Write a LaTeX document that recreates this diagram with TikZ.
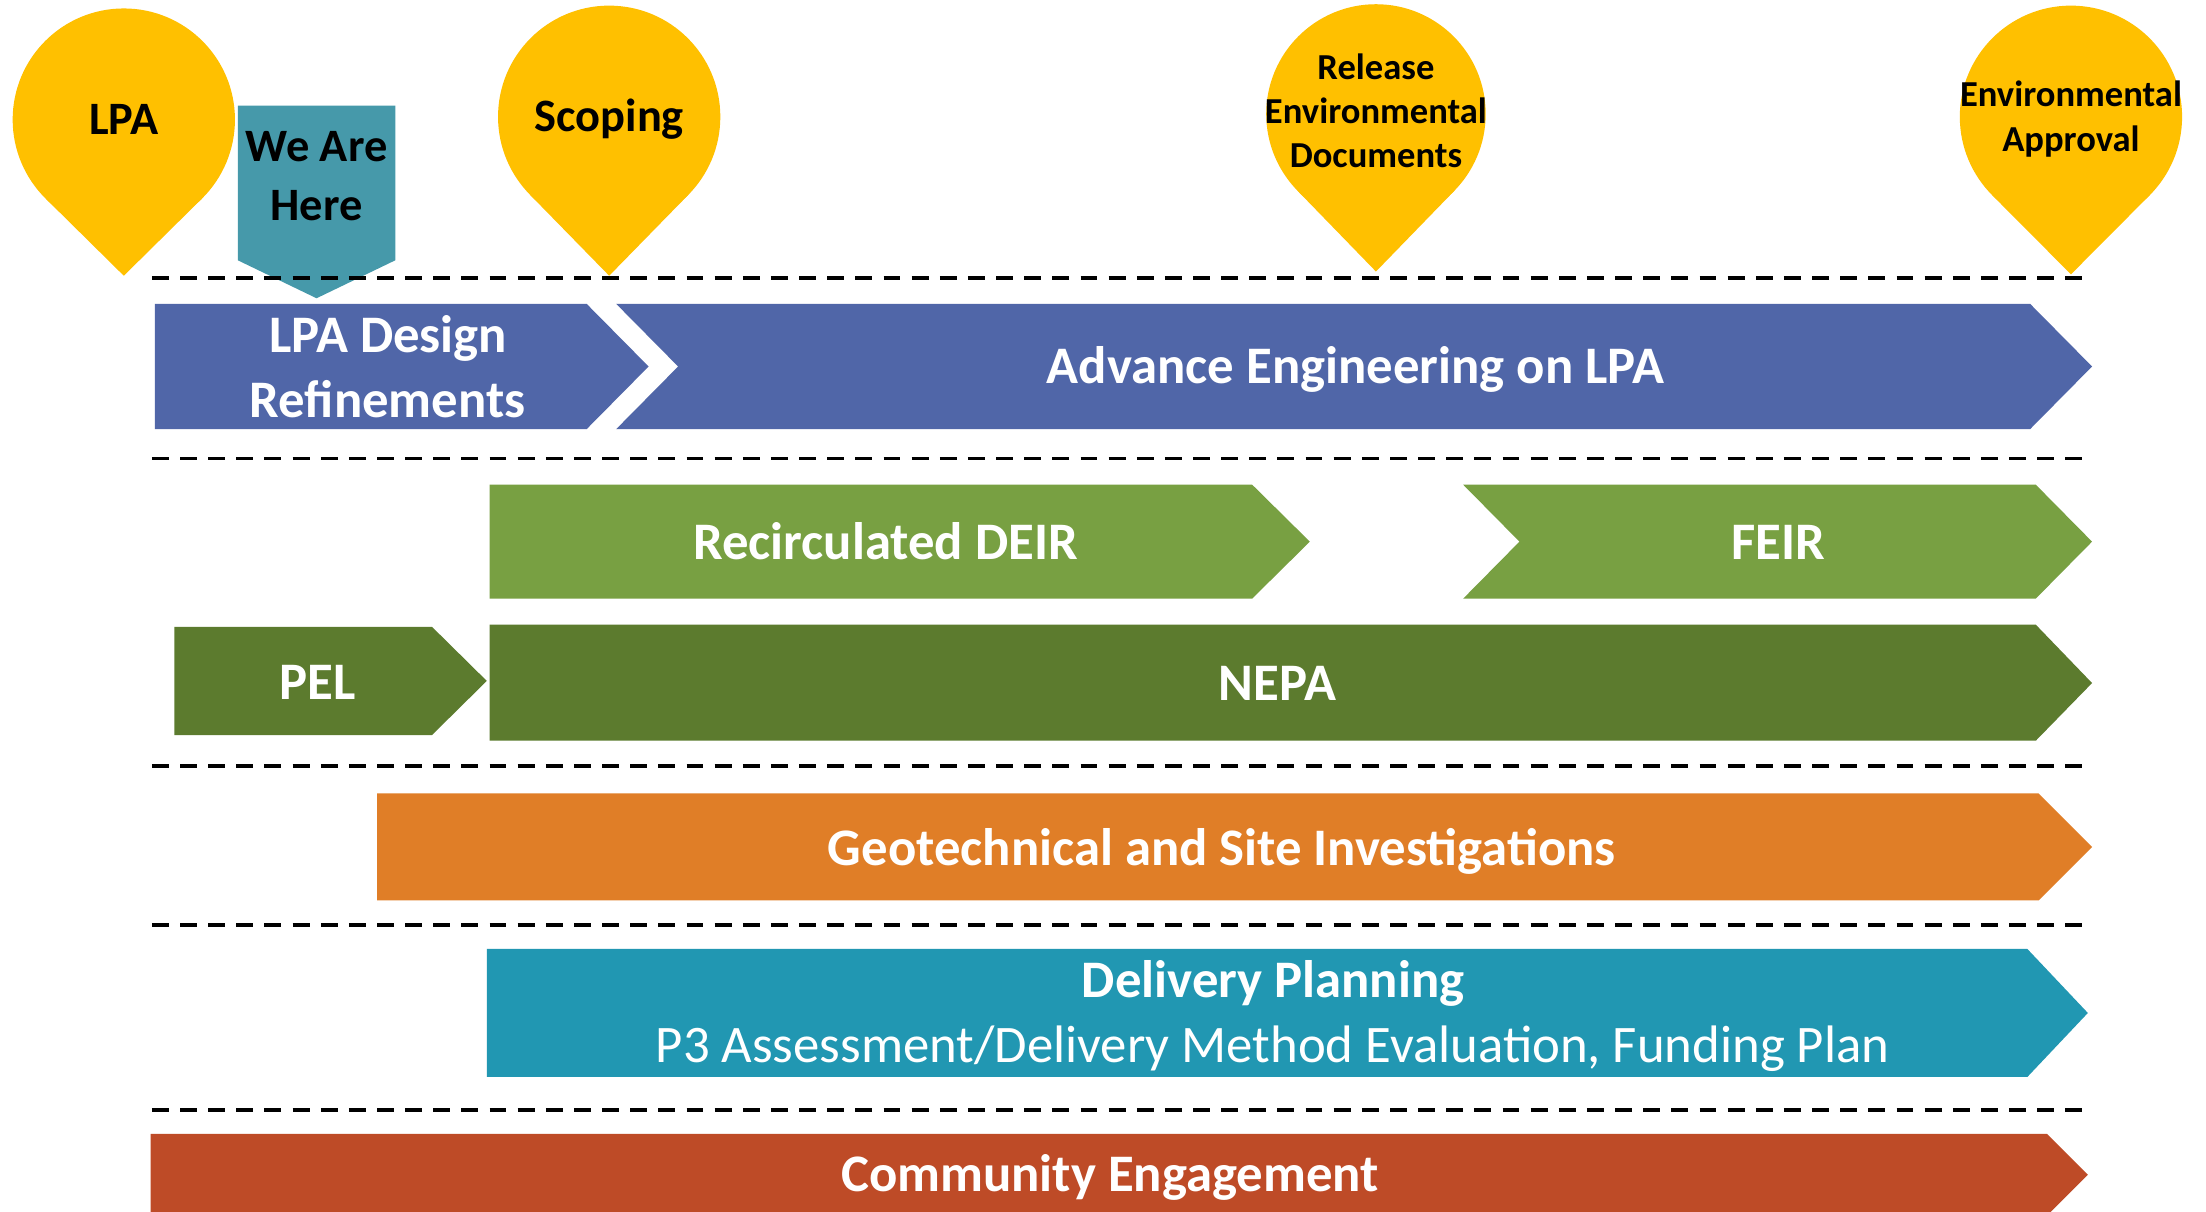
\documentclass[tikz,border=0pt]{standalone}
\usepackage{fontspec}
\setmainfont{Carlito}
\definecolor{pinY}{HTML}{FFC000}
\definecolor{hereT}{HTML}{4699AA}
\definecolor{barB}{HTML}{5066A8}
\definecolor{barLG}{HTML}{78A042}
\definecolor{barDG}{HTML}{5C7B2E}
\definecolor{barO}{HTML}{E07E27}
\definecolor{barT}{HTML}{2197B2}
\definecolor{barR}{HTML}{BE4B27}
\tikzset{
  barlbl/.style={text=white, inner sep=0pt, text height=23.7pt, text depth=0pt,
    font=\fontsize{37.5}{45}\selectfont\bfseries},
  barlblreg/.style={barlbl, font=\fontsize{37.5}{45}\selectfont},
  pinlbl/.style={text=black, inner sep=0pt, text height=20.9pt, text depth=0pt,
    font=\fontsize{33}{40}\selectfont\bfseries},
  pinsmall/.style={text=black, inner sep=0pt, text height=16.4pt, text depth=0pt,
    font=\fontsize{26}{31}\selectfont\bfseries},
  divider/.style={line width=2.4pt, dash pattern=on 12pt off 8pt, black}
}
\begin{document}
\begin{tikzpicture}[x=1pt,y=-1pt]
\clip (0,0) rectangle (1568,861);
\fill[white] (0,0) rectangle (1568,861);

% pins
\fill[pinY] (88,85) circle[radius=79];
\fill[pinY] (88,196) -- (32.5,141.2) -- (143.5,141.2) -- cycle;
\fill[pinY] (433,83) circle[radius=79];
\fill[pinY] (433,196) -- (376.5,138.2) -- (489.5,138.2) -- cycle;
\fill[pinY] (978,81) circle[radius=78];
\fill[pinY] (978,193) -- (922,135.3) -- (1034,135.3) -- cycle;
\fill[pinY] (1472,83) circle[radius=79];
\fill[pinY] (1472,195) -- (1416,138.7) -- (1528,138.7) -- cycle;

\node[pinlbl] (lpa) at (88,85.5) {LPA};
\node[pinlbl] (scoping) at (433,83) {Scoping};
\node[pinsmall] (rel1) at (978,48) {Release};
\node[pinsmall] (rel2) at (978,79.5) {Environmental};
\node[pinsmall] (rel3) at (978,111) {Documents};
\node[pinsmall] (app1) at (1472,67.5) {Environmental};
\node[pinsmall] (app2) at (1472,99.5) {Approval};

% we are here
\fill[hereT] (169,75) -- (281,75) -- (281,185) -- (225,212) -- (169,185) -- cycle;
\node[pinlbl] (here1) at (225,104) {We Are};
\node[pinlbl] (here2) at (225,146) {Here};

% bars
\fill[barB] (110,216) -- (417,216) -- (461,260.5) -- (417,305) -- (110,305) -- cycle;
\fill[barB] (438,216) -- (1443,216) -- (1487,260.5) -- (1443,305) -- (438,305) -- (482,260.5) -- cycle;
\fill[barLG] (348,344.5) -- (890,344.5) -- (931,385) -- (890,425.5) -- (348,425.5) -- cycle;
\fill[barLG] (1040,344.5) -- (1447,344.5) -- (1487,385) -- (1447,425.5) -- (1040,425.5) -- (1080,385) -- cycle;
\fill[barDG] (124,445.5) -- (307,445.5) -- (346,484) -- (307,522.5) -- (124,522.5) -- cycle;
\fill[barDG] (348,444) -- (1447,444) -- (1487,485.5) -- (1447,526.5) -- (348,526.5) -- cycle;
\fill[barO] (268,564) -- (1449,564) -- (1487,602) -- (1449,640) -- (268,640) -- cycle;
\fill[barT] (346,674.5) -- (1441,674.5) -- (1484,720) -- (1441,765.5) -- (346,765.5) -- cycle;
\fill[barR] (107,806) -- (1455,806) -- (1484,835) -- (1455,864) -- (107,864) -- cycle;

\node[barlbl] (lpad1) at (276,239) {LPA Design};
\node[barlbl] (lpad2) at (275.5,285) {Refinements};
\node[barlbl] (adv) at (963.5,261) {Advance Engineering on LPA};
\node[barlbl] (deir) at (629.5,386) {Recirculated DEIR};
\node[barlbl] (feir) at (1264,386) {FEIR};
\node[barlbl] (pel) at (226,485) {PEL};
\node[barlbl] (nepa) at (908,486) {NEPA};
\node[barlbl] (geo) at (868.5,603) {Geotechnical and Site Investigations};
\node[barlbl] (dp1) at (905,697) {Delivery Planning};
\node[barlblreg] (dp2) at (904.5,743) {P3 Assessment/Delivery Method Evaluation, Funding Plan};
\node[barlbl] (ce) at (789,835) {Community Engagement};

% dividers
\foreach \yy in {197.5,326,544.5,657.5,789}
  \draw[divider] (108,\yy) -- (1487,\yy);
\end{tikzpicture}
\end{document}
